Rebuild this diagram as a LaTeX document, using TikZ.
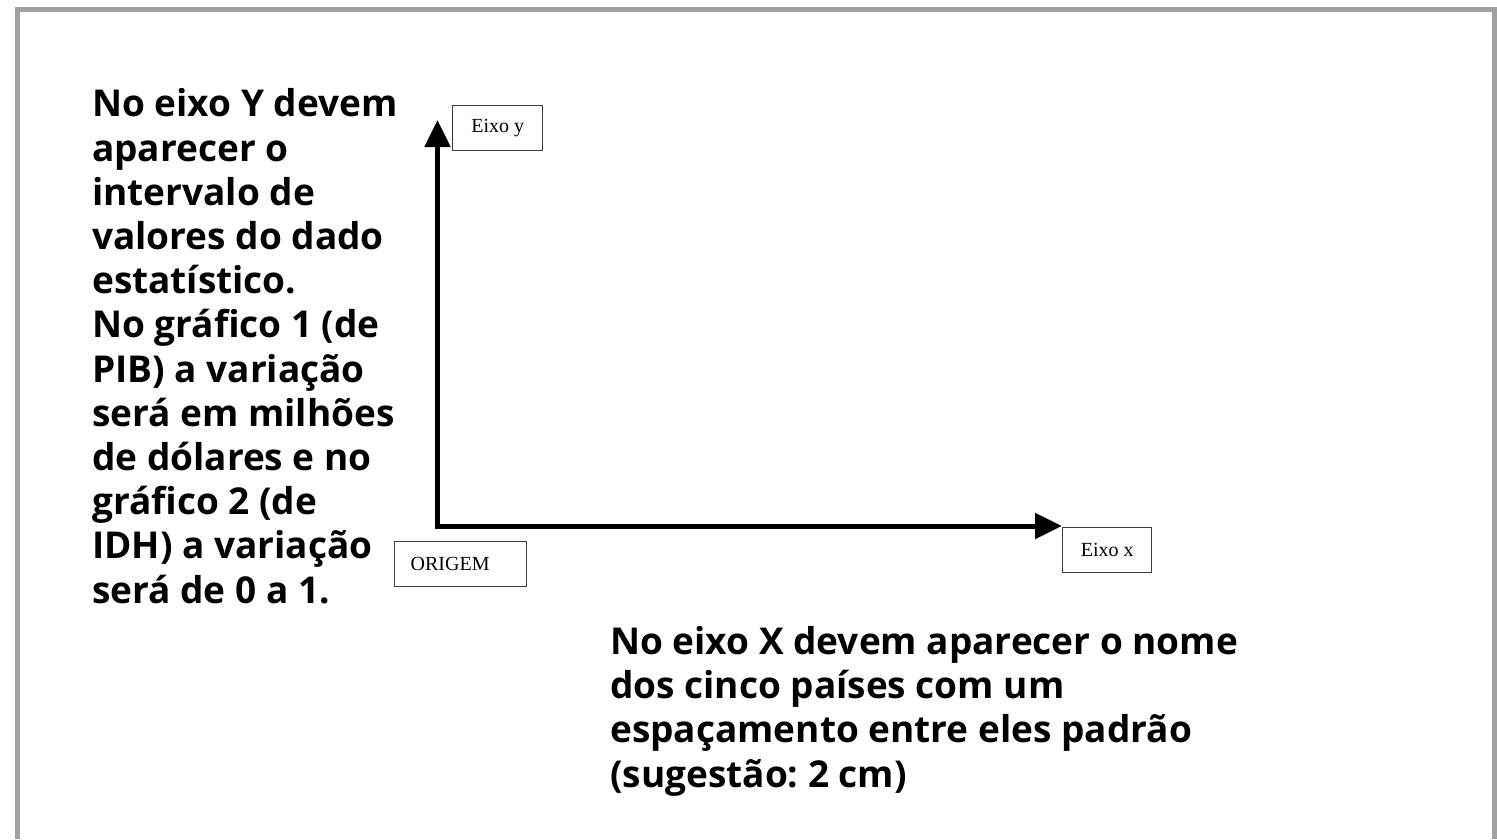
\documentclass[tikz,border=0pt]{standalone}
\usepackage{fontspec}
\setmainfont{Open Sans}
\newfontfamily\boxfont{Liberation Serif}
\usetikzlibrary{arrows.meta,positioning}
\frenchspacing
\definecolor{framegray}{RGB}{160,160,160}
\definecolor{boxgray}{RGB}{60,60,60}
\tikzset{
  note/.style={font=\fontsize{37}{44.2}\selectfont\bfseries, align=left, inner sep=0pt, anchor=base west},
  lbox/.style={draw=boxgray, line width=1.4pt, font=\boxfont\fontsize{20}{24}\selectfont, inner sep=0pt, minimum height=45pt},
  axisln/.style={line width=5pt, line join=miter, {Triangle[length=27pt,width=25pt]}-{Triangle[length=27pt,width=25pt]}},
  frameln/.style={framegray, line width=5pt},
}

\begin{document}
\begin{tikzpicture}[x=1pt, y=-1pt]
  \useasboundingbox (0,0) rectangle (1497,839);
  \draw[frameln] (17.5,839) |- (1494.5,9.5) -- (1494.5,839);
  % axes
  \coordinate (ytip) at (437.5,120);
  \coordinate (xtip) at (1062,526);
  \draw[axisln] (ytip) |- (xtip);
  \node[lbox, minimum width=90pt, anchor=north west] (ylab) at (452,105) {Eixo y};
  \node[lbox, minimum width=89pt, anchor=north west] (xlab) at (1062,527) {Eixo x};
  \node[lbox, text width=100pt, inner xsep=16pt, align=left, anchor=north west] (orig) at (394,541) {ORIGEM};
  % notes (anchored at the baseline of their last line)
  \node[note] (ynote) at (92,603) {No eixo Y devem\\aparecer o\\intervalo de\\valores do dado\\estatístico.\\No gráfico 1 (de\\PIB) a variação\\será em milhões\\de dólares e no\\gráfico 2 (de\\IDH) a variação\\será de 0 a 1.};
  \node[note] (xnote) at (610,787) {No eixo X devem aparecer o nome\\dos cinco países com um\\espaçamento entre eles padrão\\(sugestão: 2 cm)};
\end{tikzpicture}
\end{document}
